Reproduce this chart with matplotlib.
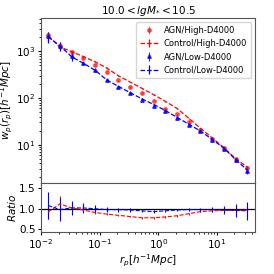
import numpy as np
import matplotlib
matplotlib.use('Agg')
import matplotlib.pyplot as plt

# projected separation bins
rp = [0.0132, 0.0209, 0.0331, 0.0525, 0.0832, 0.132, 0.209, 0.331, 0.525,
      0.832, 1.32, 2.09, 3.31, 5.25, 8.32, 13.2, 20.9, 33.1]

# wp(rp) for each sample
wp_agn_high = [2280, 1340, 970, 720, 520, 365, 240, 173, 128, 88, 59, 45, 31, 20.5, 13.2, 8.3, 4.9, 3.2]
wp_ctl_high = [2150, 1250, 990, 780, 600, 440, 300, 220, 162, 118, 85, 60, 37, 22.5, 14.0, 8.6, 5.0, 3.3]
wp_agn_low = [2100, 1340, 782, 562, 392, 239, 175, 128, 92, 69, 52, 37.5, 27, 19.3, 12.8, 8.2, 4.6, 2.7]
wp_ctl_low = [2050, 1330, 770, 560, 395, 245, 178, 131, 96, 73, 54, 38.5, 27.5, 19.6, 13.0, 8.4, 4.8, 2.85]

# relative errors
err_agn_high = [0.06, 0.05, 0.04, 0.04, 0.03, 0.03, 0.03, 0.03, 0.03, 0.03, 0.03, 0.03, 0.03, 0.03, 0.03, 0.04, 0.05, 0.06]
err_ctl_high = [0.10, 0.15, 0.05, 0.04, 0.03, 0.03, 0.02, 0.02, 0.02, 0.02, 0.02, 0.02, 0.02, 0.02, 0.03, 0.03, 0.04, 0.06]
err_agn_low = [0.25, 0.18, 0.10, 0.08, 0.06, 0.05, 0.04, 0.04, 0.03, 0.03, 0.03, 0.03, 0.04, 0.05, 0.06, 0.08, 0.10, 0.15]
err_ctl_low = [0.25, 0.22, 0.18, 0.06, 0.05, 0.04, 0.03, 0.03, 0.03, 0.03, 0.03, 0.03, 0.03, 0.04, 0.05, 0.06, 0.08, 0.12]

# ratio AGN / control
ratio_high = [0.92, 1.12, 1.02, 0.97, 0.91, 0.87, 0.84, 0.81, 0.78, 0.78, 0.80, 0.83, 0.88, 0.93, 0.95, 0.96, 0.96, 0.97]
ratio_low = [1.08, 0.98, 1.02, 1.02, 1.00, 0.98, 0.98, 0.97, 0.95, 0.93, 0.95, 0.97, 0.98, 0.98, 0.98, 0.97, 0.96, 0.95]
rerr_high = [0.17, 0.20, 0.06, 0.04, 0.03, 0.02, 0.02, 0.02, 0.02, 0.02, 0.02, 0.02, 0.02, 0.02, 0.02, 0.02, 0.03, 0.04]
rerr_low = [0.33, 0.28, 0.17, 0.13, 0.09, 0.06, 0.05, 0.04, 0.03, 0.03, 0.03, 0.03, 0.04, 0.05, 0.07, 0.10, 0.15, 0.22]

plt.rcParams.update({'font.size': 7, 'axes.edgecolor': '#555555'})

fig = plt.figure(figsize=(2.74, 2.74), dpi=100)
ax1 = fig.add_axes([0.150, 0.332, 0.781, 0.602])
ax2 = fig.add_axes([0.150, 0.153, 0.781, 0.179], sharex=ax1)

x = np.array(rp)
def yerr(v, e):
    return np.array(v) * np.array(e)

ax1.errorbar(x, wp_agn_high, yerr=yerr(wp_agn_high, err_agn_high), fmt='o', color='r',
             ms=2.5, lw=0.8, alpha=0.6, label='AGN/High-D4000')
ax1.errorbar(x, wp_ctl_high, yerr=yerr(wp_ctl_high, err_ctl_high), fmt='--', color='r',
             lw=0.9, label='Control/High-D4000')
ax1.errorbar(x, wp_agn_low, yerr=yerr(wp_agn_low, err_agn_low), fmt='^', color='b',
             ms=2.5, lw=0.8, alpha=0.8, label='AGN/Low-D4000')
ax1.errorbar(x, wp_ctl_low, yerr=yerr(wp_ctl_low, err_ctl_low), fmt='--', color='b',
             lw=0.9, label='Control/Low-D4000')

ax1.set_xscale('log')
ax1.set_yscale('log')
ax1.set_xlim(0.01, 45)
ax1.set_ylim(1.5, 5200)
ax1.set_ylabel(r'$w_p(r_p)[h^{-1}Mpc]$', fontsize=7.5, labelpad=1)
ax1.set_title(r'$10.0<lgM_{*}<10.5$', fontsize=7.5, pad=3)
ax1.tick_params(labelbottom=False, labelsize=7.5, length=2.5, pad=1.5)
ax1.tick_params(which='minor', length=1.5)
ax1.legend(loc='upper right', fontsize=6, handlelength=2.2, borderpad=0.45,
           labelspacing=0.5, handletextpad=0.7, borderaxespad=0.5)

ax2.errorbar(x, ratio_high, yerr=rerr_high, fmt='--', color='r', lw=0.8)
ax2.errorbar(x, ratio_low, yerr=rerr_low, fmt='--', color='b', lw=0.8)
ax2.axhline(1.0, color='k', lw=0.9)
ax2.set_ylim(0.43, 1.63)
ax2.set_yticks([0.5, 1.0, 1.5])
ax2.set_ylabel(r'$Ratio$', fontsize=7.5, labelpad=1)
ax2.set_xlabel(r'$r_p[h^{-1}Mpc]$', fontsize=7.5, labelpad=1)
ax2.tick_params(labelsize=7.5, length=2.5, pad=1.5)
ax2.tick_params(which='minor', length=1.5)

fig.savefig('out.png', dpi=100)
